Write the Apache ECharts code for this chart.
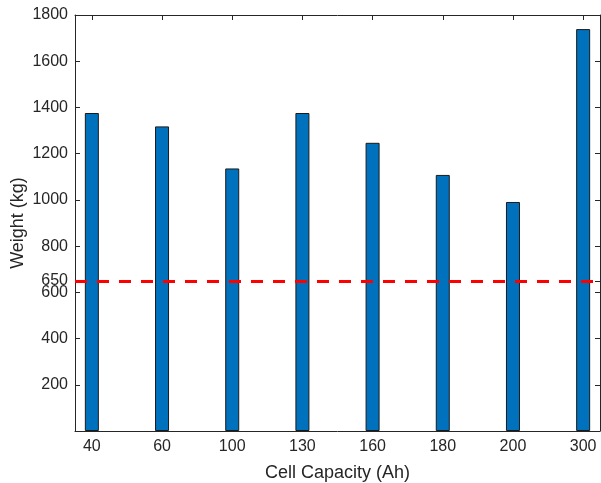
<!DOCTYPE html>
<html>
<head>
<meta charset="utf-8">
<script src="https://cdn.jsdelivr.net/npm/echarts@6/dist/echarts.min.js"></script>
<style>html,body{margin:0;padding:0;background:#fff}#c{width:601px;height:483px}</style>
</head>
<body>
<div id="c"></div>
<script>
const categories = ['40','60','100','130','160','180','200','300'];
const weights = [1376, 1318, 1136, 1376, 1247, 1108, 991, 1739];
const limitValue = 650;
const yTickValues = [200, 400, 600, 650, 800, 1000, 1200, 1400, 1600, 1800];

const positions = categories.map((c, i) => i + 1);
const barData = weights.map((w, i) => [positions[i], w]);

const textColor = '#262626';
const font = '"Liberation Sans", Arial, Helvetica, sans-serif';
const chart = echarts.init(document.getElementById('c'), null, {renderer: 'canvas'});

const xBase = {
  type: 'value', min: 0.76, max: 8.24,
  splitLine: {show: false},
  axisLine: {show: true, onZero: false, lineStyle: {color: textColor, width: 1}},
  axisTick: {show: true, inside: true, length: 5, customValues: positions, lineStyle: {color: textColor}},
};
const yBase = {
  type: 'value', min: 0, max: 1800,
  splitLine: {show: false},
  axisLine: {show: true, onZero: false, lineStyle: {color: textColor, width: 1}},
  axisTick: {show: true, inside: true, length: 5, customValues: yTickValues, lineStyle: {color: textColor}},
};

chart.setOption({
  animation: false,
  backgroundColor: '#fff',
  grid: {left: 75, right: 1, top: 15, bottom: 52, containLabel: false, outerBoundsMode: 'none'},
  xAxis: [
    Object.assign({}, xBase, {
      position: 'bottom',
      name: 'Cell Capacity (Ah)', nameLocation: 'middle', nameGap: 33,
      nameTextStyle: {color: textColor, fontSize: 18, fontFamily: font},
      axisLabel: {show: true, customValues: positions, margin: 8, color: textColor, fontSize: 16, fontFamily: font,
        formatter: v => categories[Math.round(v) - 1] || ''}
    }),
    Object.assign({}, xBase, {position: 'top', axisLabel: {show: false}})
  ],
  yAxis: [
    Object.assign({}, yBase, {
      position: 'left',
      name: 'Weight (kg)', nameLocation: 'middle', nameGap: 48, nameMoveOverlap: false,
      nameTextStyle: {color: textColor, fontSize: 18, fontFamily: font},
      axisLabel: {show: true, customValues: yTickValues, margin: 7, color: textColor, fontSize: 16, fontFamily: font,
        formatter: v => String(v)}
    }),
    Object.assign({}, yBase, {position: 'right', axisLabel: {show: false}})
  ],
  series: [{
    type: 'bar',
    xAxisIndex: 0, yAxisIndex: 0,
    data: barData,
    barWidth: 14,
    itemStyle: {color: '#0072BD', borderColor: '#1a1a1a', borderWidth: 1},
    markLine: {
      silent: true, symbol: 'none', label: {show: false},
      lineStyle: {color: '#ff0000', width: 3, type: [12, 10]},
      data: [{yAxis: limitValue}]
    },
    z: 2
  }]
});
</script>
</body>
</html>
